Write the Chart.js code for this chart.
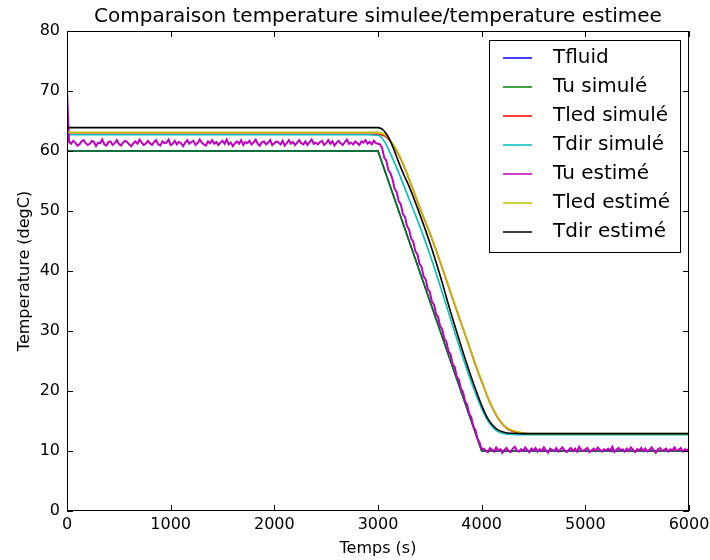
<!DOCTYPE html>
<html>
<head>
<meta charset="utf-8">
<script src="https://cdn.jsdelivr.net/npm/chart.js@4"></script>
<style>
  html, body { margin: 0; padding: 0; background: #fff; }
</style>
</head>
<body>
<canvas id="tempChart" width="710" height="560"></canvas>
<script>
// ---- data ----
const seriesNames = ['Tfluid', 'Tu simulé', 'Tled simulé', 'Tdir simulé', 'Tu estimé', 'Tled estimé', 'Tdir estimé'];
const seriesColors = ['#0000ff', '#008000', '#ff0000', '#00bfbf', '#bf00bf', '#bfbf00', '#000000'];

const xTicks = [0, 1000, 2000, 3000, 4000, 5000, 6000];
const yTicks = [0, 10, 20, 30, 40, 50, 60, 70, 80];

// sample times (s) for the smooth curves
const curveTimes = [0, 2900, 3000, 3025, 3050, 3075, 3100, 3150, 3200, 3250, 3300, 3400, 3500, 3600, 3700,
  3800, 3900, 3950, 4000, 4050, 4100, 4150, 4200, 4250, 4300, 4400, 4500, 4600, 5000, 6000];

const tFluid = [60, 60, 60, 58.75, 57.5, 56.25, 55, 52.5, 50, 47.5, 45, 40, 35, 30, 25,
  20, 15, 12.5, 10, 10, 10, 10, 10, 10, 10, 10, 10, 10, 10, 10];
const tuSim = [60, 60, 60, 58.75, 57.5, 56.25, 55, 52.5, 50, 47.5, 45, 40, 35, 30, 25,
  20, 15, 12.5, 10, 10, 10, 10, 10, 10, 10, 10, 10, 10, 10, 10];
const tledSim = [62.8, 62.8, 62.8, 62.7, 62.6, 62.4, 62.0, 60.9, 59.4, 57.5, 55.3, 50.7, 46.3, 41.5, 36.4,
  31.4, 26.4, 23.9, 21.6, 19.3, 17.3, 15.7, 14.5, 13.7, 13.3, 12.95, 12.85, 12.85, 12.85, 12.85];
const tdirSim = [62.7, 62.7, 62.6, 62.4, 61.9, 61.2, 60.3, 58.4, 56.4, 54.2, 52.0, 47.6, 42.8, 37.5, 32.0,
  26.6, 21.5, 19.2, 17.1, 15.3, 14.1, 13.3, 12.95, 12.8, 12.75, 12.7, 12.7, 12.7, 12.7, 12.7];
const tledEst = [63.1, 63.1, 63.1, 63.0, 62.9, 62.6, 62.2, 61.0, 59.5, 57.6, 55.4, 50.8, 46.4, 41.6, 36.5,
  31.5, 26.5, 24.0, 21.7, 19.4, 17.4, 15.8, 14.6, 13.8, 13.4, 13.0, 12.9, 12.9, 12.9, 12.9];
const tdirEst = [63.9, 63.9, 63.9, 63.8, 63.5, 63.0, 62.3, 60.4, 58.1, 56.0, 54.1, 49.6, 44.7, 39.2, 33.2,
  27.6, 22.3, 19.9, 17.6, 15.7, 14.4, 13.6, 13.2, 13.0, 12.95, 12.9, 12.9, 12.9, 12.9, 12.9];

// Tu estimé: noisy estimate, one sample every 20 s from t = 0
const tuEstStep = 20;
const tuEst = [
  70.2,
  61.5, 61.2, 61.7, 61.4, 60.9, 61.1, 61.6, 61.8, 61.3, 61.0,
  61.2, 61.7, 61.5, 60.8, 61.4, 61.3, 61.9, 61.1, 60.9, 61.5,
  61.6, 61.0, 61.3, 61.8, 61.2, 60.9, 61.4, 61.7, 61.5, 61.1,
  60.8, 61.3, 61.6, 61.2, 61.9, 61.4, 61.0, 61.2, 61.7, 61.3,
  61.0, 61.5, 61.8, 61.1, 60.9, 61.6, 61.3, 61.4, 61.9, 61.0,
  61.2, 61.7, 61.1, 61.5, 61.3, 60.8, 61.4, 61.8, 61.2, 61.5,
  61.7, 61.0, 61.3, 61.9, 61.4, 61.1, 60.9, 61.6, 61.3, 61.8,
  61.2, 61.5, 61.0, 61.4, 61.7, 61.2, 61.9, 61.1, 61.4, 60.8,
  61.3, 61.6, 61.2, 61.8, 61.0, 61.5, 61.3, 61.7, 61.1, 61.4,
  61.9, 61.2, 60.9, 61.5, 61.6, 61.1, 61.4, 61.8, 61.0, 61.3,
  61.6, 61.4, 61.1, 61.7, 60.9, 61.3, 61.8, 61.2, 61.5, 61.0,
  61.4, 61.8, 61.3, 61.1, 61.6, 61.0, 61.5, 61.9, 61.2, 61.4,
  61.1, 61.5, 61.7, 61.0, 61.3, 61.8, 61.2, 61.6, 60.9, 61.4,
  61.7, 61.3, 61.0, 61.5, 61.9, 61.2, 61.4, 61.1, 61.6, 61.3,
  61.0, 61.6, 61.4, 61.8, 61.2, 61.5, 61.1, 61.7, 61.3, 61.2,
  // ramp 3020 .. 4000 s
  61.1, 60.5, 58.9, 58.4, 56.8, 56.3, 55.3, 53.7, 53.2, 51.6,
  51.1, 49.5, 49.0, 47.5, 46.9, 45.4, 44.9, 43.3, 42.8, 41.2,
  40.7, 39.1, 38.6, 37.0, 36.5, 34.9, 34.4, 32.9, 32.3, 30.8,
  30.3, 28.7, 28.2, 26.6, 26.1, 24.5, 24.0, 22.4, 21.9, 20.4,
  19.8, 18.3, 17.7, 16.2, 15.6, 14.1, 13.5, 12.0, 11.4, 10.3,
  // 4020 .. 6000 s
  10.4, 10.0, 9.8, 10.5, 10.2, 9.9, 10.6, 10.1, 10.3, 9.7,
  10.2, 10.5, 10.0, 9.8, 10.4, 10.7, 10.1, 9.9, 10.3, 10.0,
  10.6, 10.2, 9.8, 10.4, 10.1, 10.5, 9.9, 10.3, 10.0, 10.6,
  10.1, 9.7, 10.4, 10.2, 10.0, 10.5, 9.9, 10.3, 10.6, 10.1,
  9.8, 10.2, 10.5, 10.0, 10.4, 9.9, 10.7, 10.2, 10.0, 10.3,
  10.5, 9.8, 10.1, 10.4, 10.0, 10.6, 10.2, 9.9, 10.3, 10.1,
  10.4, 10.0, 10.7, 9.8, 10.2, 10.5, 10.1, 10.3, 9.9, 10.4,
  10.0, 10.6, 10.2, 9.8, 10.3, 10.1, 10.5, 10.0, 10.4, 9.9,
  10.2, 10.6, 10.1, 9.7, 10.3, 10.5, 10.0, 10.2, 10.4, 9.9,
  10.3, 10.1, 10.6, 10.0, 10.2, 10.5, 9.9, 10.3, 10.1, 10.4
];

// ---- helpers ----
const toPoints = (times, vals) => vals.map((v, i) => ({ x: times[i], y: v }));
const tuEstTimes = tuEst.map((_, i) => i * tuEstStep);

const seriesData = [
  toPoints(curveTimes, tFluid),
  toPoints(curveTimes, tuSim),
  toPoints(curveTimes, tledSim),
  toPoints(curveTimes, tdirSim),
  toPoints(tuEstTimes, tuEst),
  toPoints(curveTimes, tledEst),
  toPoints(curveTimes, tdirEst)
];
const smooth = [false, false, true, true, false, true, true];
const widths = [1.6, 1.6, 1.6, 1.6, 2, 1.6, 1.6];

// matplotlib-like frame, inward ticks and boxed legend
const framePlugin = {
  id: 'frame',
  afterDatasetsDraw(chart) {
    const { ctx, chartArea: a, scales: { x, y } } = chart;
    ctx.save();
    ctx.strokeStyle = '#000';
    ctx.lineWidth = 1;
    ctx.beginPath();
    xTicks.forEach(v => {
      const px = Math.round(x.getPixelForValue(v)) + 0.5;
      ctx.moveTo(px, a.bottom); ctx.lineTo(px, a.bottom - 6);
      ctx.moveTo(px, a.top); ctx.lineTo(px, a.top + 6);
    });
    yTicks.forEach(v => {
      const py = Math.round(y.getPixelForValue(v)) + 0.5;
      ctx.moveTo(a.left, py); ctx.lineTo(a.left + 6, py);
      ctx.moveTo(a.right, py); ctx.lineTo(a.right - 6, py);
    });
    ctx.stroke();
    ctx.strokeRect(a.left + 0.5, a.top + 0.5, a.right - a.left - 1, a.bottom - a.top - 1);

    // legend
    const lx = 489, ly = 40, lw = 191, lh = 212;
    ctx.fillStyle = '#fff';
    ctx.fillRect(lx, ly, lw, lh);
    ctx.strokeRect(lx + 0.5, ly + 0.5, lw, lh);
    ctx.font = '20px "DejaVu Sans"';
    ctx.textBaseline = 'middle';
    ctx.textAlign = 'left';
    seriesNames.forEach((name, i) => {
      const ry = 58 + i * 29;
      ctx.strokeStyle = seriesColors[i];
      ctx.lineWidth = 1.5;
      ctx.beginPath();
      ctx.moveTo(503, ry); ctx.lineTo(532, ry);
      ctx.stroke();
      ctx.fillStyle = '#000';
      ctx.fillText(name, 553, ry);
    });
    ctx.restore();
  }
};

Chart.defaults.color = '#000';
Chart.defaults.font.family = '"DejaVu Sans", sans-serif';

new Chart(document.getElementById('tempChart').getContext('2d'), {
  type: 'line',
  data: {
    datasets: seriesNames.map((name, i) => ({
      label: name,
      data: seriesData[i],
      borderColor: seriesColors[i],
      backgroundColor: seriesColors[i],
      borderWidth: widths[i],
      pointRadius: 0,
      fill: false,
      tension: 0,
      cubicInterpolationMode: smooth[i] ? 'monotone' : 'default',
      order: seriesNames.length - i
    }))
  },
  options: {
    responsive: false,
    animation: false,
    layout: { padding: { left: 0, top: 0, right: 21, bottom: 0 } },
    plugins: {
      legend: { display: false },
      tooltip: { enabled: false },
      title: {
        display: true,
        fullSize: false,
        text: 'Comparaison temperature simulee/temperature estimee',
        color: '#000',
        font: { size: 20, weight: 'normal', lineHeight: 1.2 },
        padding: { top: 5, bottom: 2 }
      }
    },
    scales: {
      x: {
        type: 'linear',
        min: 0, max: 6000,
        grid: { display: false, drawTicks: false },
        border: { display: false },
        ticks: { stepSize: 1000, padding: 4, font: { size: 16 }, color: '#000', maxRotation: 0,
          callback: v => String(v) },
        title: { display: true, text: 'Temps (s)', font: { size: 16 }, color: '#000', padding: { top: 0, bottom: 2 } },
        afterFit: s => { s.height = 49; s.paddingLeft = 0; s.paddingRight = 0; }
      },
      y: {
        min: 0, max: 80,
        grid: { display: false, drawTicks: false },
        border: { display: false },
        ticks: { stepSize: 10, padding: 7, font: { size: 16 }, color: '#000', callback: v => String(v) },
        title: { display: true, text: 'Temperature (degC)', font: { size: 16 }, color: '#000', padding: 15 },
        afterFit: s => { s.width = 67; s.paddingTop = 0; s.paddingBottom = 0; }
      }
    }
  },
  plugins: [framePlugin]
});
</script>
</body>
</html>
